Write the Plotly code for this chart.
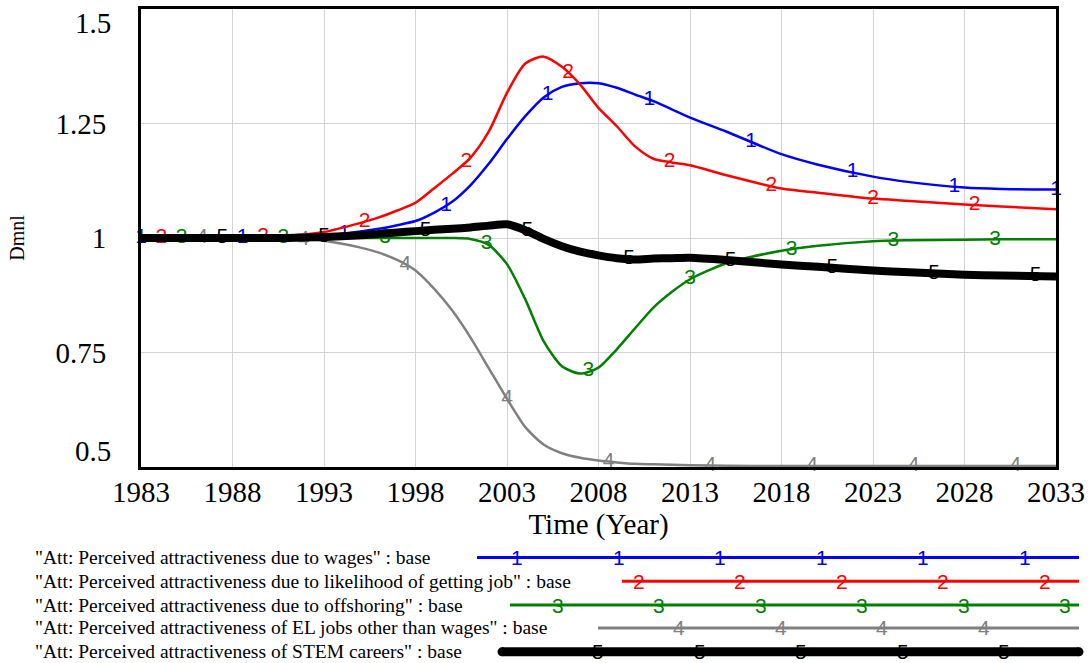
import numpy as np
import plotly.graph_objects as go

# ---------------- data ----------------
years = [1983, 1988, 1991, 1993, 1995, 1996, 1997, 1998, 1999, 2000, 2001, 2002,
         2003, 2004, 2005, 2006, 2007, 2008, 2009, 2010, 2011, 2012, 2013, 2015,
         2018, 2020, 2023, 2025, 2028, 2030, 2033]

att_wages = [1.0, 1.0, 1.002, 1.005, 1.014, 1.02, 1.028, 1.037, 1.055, 1.079, 1.115, 1.162,
             1.216, 1.266, 1.307, 1.33, 1.338, 1.338, 1.328, 1.313, 1.299, 1.281, 1.263, 1.232,
             1.183, 1.16, 1.134, 1.122, 1.11, 1.107, 1.106]

att_likelihood = [1.0, 1.001, 1.005, 1.013, 1.033, 1.045, 1.06, 1.077, 1.108, 1.14, 1.175, 1.232,
                  1.317, 1.381, 1.396, 1.374, 1.335, 1.284, 1.244, 1.2, 1.173, 1.165, 1.159, 1.137,
                  1.108, 1.099, 1.086, 1.081, 1.073, 1.069, 1.063]

att_offshoring = [1.0, 1.0, 1.0, 1.0, 1.0, 1.0, 1.0, 1.0, 1.0, 1.0, 0.998, 0.985,
                  0.943, 0.866, 0.775, 0.72, 0.704, 0.717, 0.757, 0.803, 0.848, 0.882, 0.91, 0.945,
                  0.972, 0.983, 0.993, 0.995, 0.996, 0.997, 0.997]

att_el_other = [1.0, 1.0, 0.999, 0.994, 0.979, 0.968, 0.952, 0.929, 0.89, 0.842, 0.783, 0.716,
                0.649, 0.587, 0.549, 0.53, 0.52, 0.514, 0.51, 0.507, 0.506, 0.505, 0.504, 0.503,
                0.502, 0.502, 0.502, 0.502, 0.502, 0.502, 0.502]

att_stem = [1.0, 1.0, 1.0, 1.002, 1.006, 1.009, 1.012, 1.015, 1.018, 1.02, 1.023, 1.027,
            1.03, 1.017, 0.998, 0.982, 0.97, 0.962, 0.956, 0.953, 0.955, 0.956, 0.957, 0.952,
            0.942, 0.937, 0.929, 0.925, 0.92, 0.918, 0.916]

series_names = [
    '"Att: Perceived attractiveness due to wages" : base',
    '"Att: Perceived attractiveness due to likelihood of getting job" : base',
    '"Att: Perceived attractiveness due to offshoring" : base',
    '"Att: Perceived attractiveness of EL jobs other than wages" : base',
    '"Att: Perceived attractiveness of STEM careers" : base',
]
series_values = [att_wages, att_likelihood, att_offshoring, att_el_other, att_stem]
series_labels = ["1", "2", "3", "4", "5"]

x_ticks = [1983, 1988, 1993, 1998, 2003, 2008, 2013, 2018, 2023, 2028, 2033]
y_ticks = [0.5, 0.75, 1.0, 1.25, 1.5]
y_tick_text = ["0.5", "0.75", "1", "1.25", "1.5"]

# ---------------- styles ----------------
colors = ["#0000ff", "#ff0000", "#008000", "#808080", "#000000"]
widths = [2.5, 2.5, 2.5, 2.5, 8]
legend_widths = [3, 3, 3, 3, 9]
SERIF = "Liberation Serif, Times New Roman, serif"
SANS = "Liberation Sans, Arial, sans-serif"

W, H = 1091, 663
L, R, T, B = 141, 1056, 6, 467  # plot area in pixels


def px_x(X):
    return (X - L) / (R - L)


def px_y(Y):
    return (B - Y) / (B - T)


fig = go.Figure()

x0, x1 = x_ticks[0], x_ticks[-1]
step = (x1 - x0) / 9.0
for k, (vals, col, w, lab) in enumerate(zip(series_values, colors, widths, series_labels)):
    fig.add_trace(go.Scatter(
        x=years, y=vals, mode="lines",
        line=dict(color=col, width=w, shape="spline", smoothing=0.7),
        showlegend=False, hoverinfo="skip"))
    # number labels along each line
    mx = []
    j = 0
    while True:
        xv = x0 + k * step / 5.0 + j * step
        if xv > x1 + 1e-6:
            break
        mx.append(xv)
        j += 1
    my = np.interp(mx, years, vals)
    fig.add_trace(go.Scatter(
        x=mx, y=my, mode="text", text=[lab] * len(mx),
        textposition="middle center",
        textfont=dict(family=SANS, size=21, color=col),
        cliponaxis=False, showlegend=False, hoverinfo="skip"))

# ---------------- legend (custom, below the plot) ----------------
row_y = [558, 582, 606, 629, 653]
line_start = [477, 622, 510, 598, 502]
line_end = 1079
mk_base, mk_step, mk_off = 517, 101.5, 20.3
annotations = []
shapes = []
for k in range(5):
    annotations.append(dict(
        x=px_x(33), y=px_y(row_y[k]), xref="paper", yref="paper",
        xanchor="left", yanchor="middle", showarrow=False,
        text=series_names[k],
        font=dict(family=SERIF, size=19.5, color="black")))
    shapes.append(dict(
        type="line", xref="paper", yref="paper",
        x0=px_x(line_start[k]), x1=px_x(line_end),
        y0=px_y(row_y[k]), y1=px_y(row_y[k]),
        line=dict(color=colors[k], width=legend_widths[k])))
    if k == 4:
        for xe in (line_start[k], line_end):
            shapes.append(dict(
                type="circle", xref="paper", yref="paper",
                x0=px_x(xe - 4.5), x1=px_x(xe + 4.5),
                y0=px_y(row_y[k] + 4.5), y1=px_y(row_y[k] - 4.5),
                fillcolor="black", line=dict(width=0)))
    j = -2
    while True:
        xm = mk_base + mk_off * k + mk_step * j
        j += 1
        if xm > line_end:
            break
        if xm < line_start[k] + 5:
            continue
        annotations.append(dict(
            x=px_x(xm), y=px_y(row_y[k]), xref="paper", yref="paper",
            xanchor="center", yanchor="middle", showarrow=False, text=series_labels[k],
            font=dict(family=SANS, size=21, color=colors[k])))

# end y labels positioned like the reference (inside the frame extent)
annotations.append(dict(x=0, y=y_ticks[-1], xref="paper", yref="y", xanchor="right",
                        yanchor="middle", xshift=-28, yshift=-14, showarrow=False,
                        text=y_tick_text[-1], font=dict(family=SERIF, size=29, color="black")))
annotations.append(dict(x=0, y=y_ticks[0], xref="paper", yref="y", xanchor="right",
                        yanchor="middle", xshift=-28, yshift=16, showarrow=False,
                        text=y_tick_text[0], font=dict(family=SERIF, size=29, color="black")))

fig.update_layout(
    width=W, height=H,
    margin=dict(l=L, r=W - R, t=T, b=H - B),
    paper_bgcolor="white", plot_bgcolor="white",
    annotations=annotations, shapes=shapes,
    xaxis=dict(
        range=[x0, x1], tickvals=x_ticks, ticktext=[str(v) for v in x_ticks],
        showgrid=True, gridcolor="#d3d3d3", gridwidth=1, zeroline=False,
        showline=True, linecolor="black", linewidth=3, mirror=True, ticks="",
        ticklabelstandoff=-3,
        tickfont=dict(family=SERIF, size=29, color="black"),
        title=dict(text="Time (Year)", font=dict(family=SERIF, size=29, color="black"), standoff=4),
    ),
    yaxis=dict(
        range=[y_ticks[0], y_ticks[-1]], tickvals=y_ticks,
        ticktext=[""] + y_tick_text[1:-1] + [""],
        showgrid=True, gridcolor="#d3d3d3", gridwidth=1, zeroline=False,
        showline=True, linecolor="black", linewidth=3, mirror=True, ticks="",
        ticklabelstandoff=26,
        tickfont=dict(family=SERIF, size=29, color="black"),
        title=dict(text="Dmnl", font=dict(family=SERIF, size=20, color="black"), standoff=26),
    ),
)

fig.write_html("out.html")
